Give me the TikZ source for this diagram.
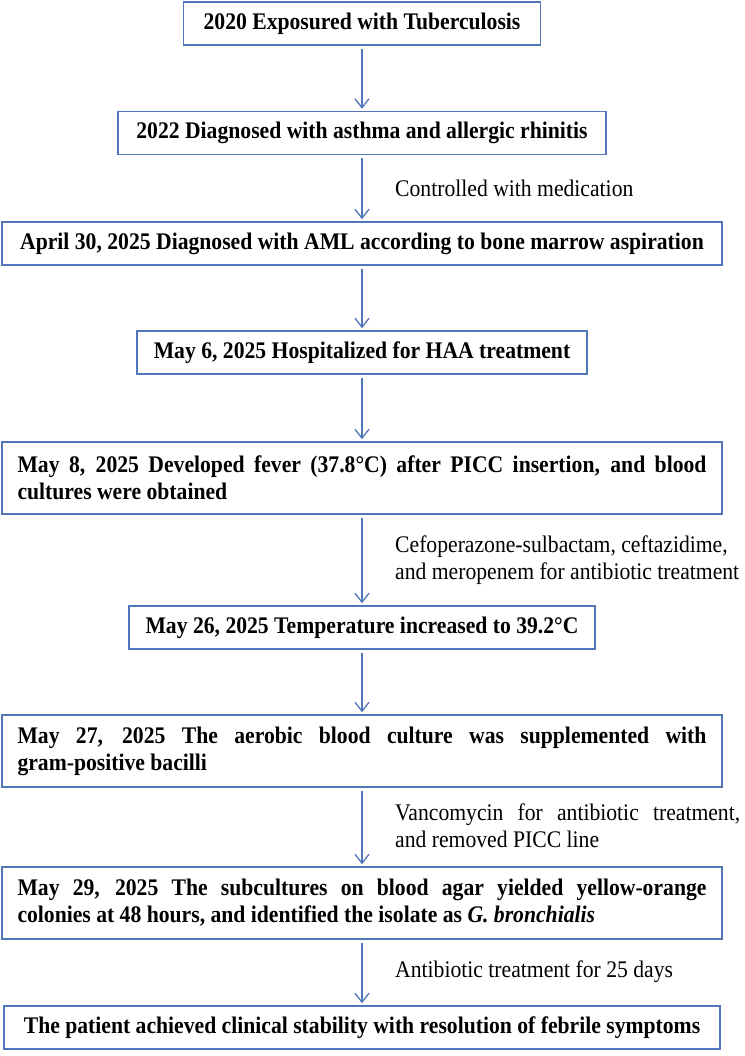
\documentclass[tikz,border=0pt]{standalone}
\usepackage{fontspec}
\setmainfont[FakeStretch=0.91]{Liberation Serif}
\usetikzlibrary{arrows.meta}
\definecolor{steel}{RGB}{82,118,186}
\hyphenpenalty=10000
\exhyphenpenalty=10000
\tikzset{
  >={Straight Barb[length=9pt,width=14pt]},
  event/.style={draw=steel,line width=1.4pt,minimum height=43pt,inner sep=0pt,
    align=center,font=\fontsize{23.8}{27}\selectfont\bfseries},
  long event/.style={event,minimum width=720pt,minimum height=72pt,
    text width=689pt,align=justify},
  flow/.style={->,draw=steel,line width=1.3pt,shorten <=3pt,shorten >=2pt},
  note/.style={anchor=west,inner sep=0pt,align=left,
    font=\fontsize{23.8}{27}\selectfont},
}
\begin{document}
\begin{tikzpicture}[x=1pt,y=-1pt]
  \useasboundingbox (0,0) rectangle (744,1056);
  % timeline boxes
  \node[event,minimum width=357pt] (tb) at (362,23.5) {2020 Exposured with Tuberculosis};
  \node[event,minimum width=488pt] (asthma) at (362,133) {2022 Diagnosed with asthma and allergic rhinitis};
  \node[event,minimum width=720pt] (aml) at (362,243.5) {April 30, 2025 Diagnosed with AML according to bone marrow aspiration};
  \node[event,minimum width=450pt] (haa) at (362,352.5) {May 6, 2025 Hospitalized for HAA treatment};
  \node[long event] (fever) at (362,478) {May 8, 2025 Developed fever (37.8°C) after PICC insertion, and blood\linebreak cultures were obtained};
  \node[event,minimum width=466pt] (temp) at (362,627.5) {May 26, 2025 Temperature increased to 39.2°C};
  \node[long event] (aerobic) at (362,751) {May 27, 2025 The aerobic blood culture was supplemented with\linebreak gram-positive bacilli};
  \node[long event] (subcult) at (362,903) {May 29, 2025 The subcultures on blood agar yielded yellow-orange\linebreak colonies at 48 hours, and identified the isolate as \textit{G. bronchialis}};
  \node[event,minimum width=716pt] (stable) at (362,1027.5) {The patient achieved clinical stability with resolution of febrile symptoms};
  % side notes
  \node[note] (med) at (395,188) {Controlled with medication};
  \node[note] (abx) at (395,560) {Cefoperazone-sulbactam, ceftazidime,\\and meropenem for antibiotic treatment};
  \node[note,text width=345pt,align=justify] (vanco) at (395,826) {Vancomycin for antibiotic treatment,\linebreak and removed PICC line};
  \node[note] (days) at (395,972) {Antibiotic treatment for 25 days};
  % arrows
  \draw[flow] (tb) -- (asthma);
  \draw[flow] (asthma) -- (aml);
  \draw[flow] (aml) -- (haa);
  \draw[flow] (haa) -- (fever);
  \draw[flow] (fever) -- (temp);
  \draw[flow] (temp) -- (aerobic);
  \draw[flow] (aerobic) -- (subcult);
  \draw[flow] (subcult) -- (stable);
\end{tikzpicture}
\end{document}
